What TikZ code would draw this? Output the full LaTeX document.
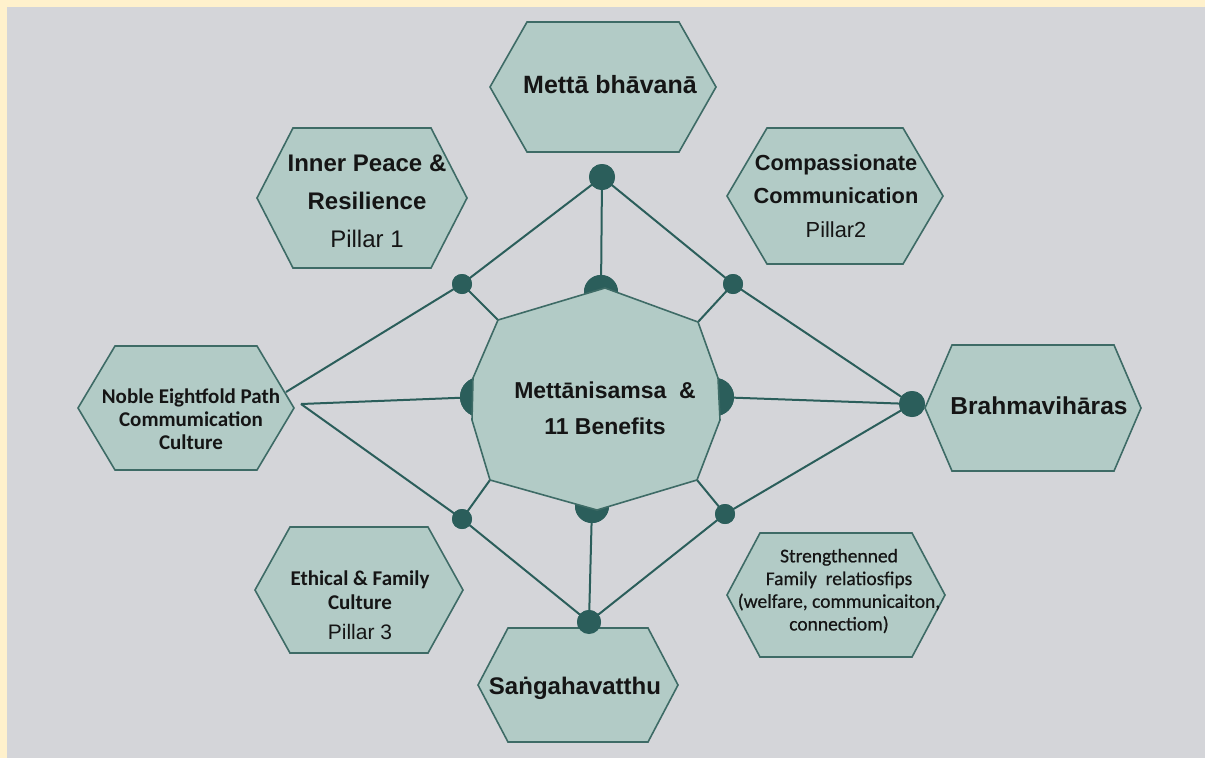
\documentclass[tikz,border=0pt]{standalone}
\usepackage{fontspec}
\setmainfont{Liberation Sans}
\newfontfamily\hum{Carlito}
\newfontfamily\humdark{Carlito}[FakeBold=0.6]
\definecolor{cream}{HTML}{FFF1CC}
\definecolor{bgc}{HTML}{D4D5D9}
\definecolor{hexfill}{HTML}{B2CBC6}
\definecolor{hexline}{HTML}{3E6B66}
\definecolor{tealdark}{HTML}{2B5E5B}
\definecolor{ink}{HTML}{151515}
\tikzset{
  hexshape/.style={fill=hexfill, draw=hexline, line width=1.6pt, line join=miter},
  conn/.style={draw=tealdark, line width=2pt},
  bigdot/.style={circle, fill=tealdark, minimum size=26pt, inner sep=0pt},
  smalldot/.style={circle, fill=tealdark, minimum size=20pt, inner sep=0pt},
  dome/.style={circle, fill=tealdark, inner sep=0pt},
  txt/.style={text=ink, align=center, inner sep=0pt},
}
\newcommand\hexat[6]{% name, cx, cy, half width, half height, inset
  \draw[hexshape] (#2-#4,#3) -- (#2-#4+#6,#3-#5) -- (#2+#4-#6,#3-#5) -- (#2+#4,#3)
     -- (#2+#4-#6,#3+#5) -- (#2-#4+#6,#3+#5) -- cycle;
  \coordinate (#1) at (#2,#3);
}
\begin{document}
\begin{tikzpicture}[x=1pt,y=-1pt]
\useasboundingbox (0,0) rectangle (1205,758);
\fill[cream] (0,0) rectangle (1205,758);
\fill[bgc] (7,7) rectangle (1205,758);

% central shape corners
\coordinate (c1) at (498,320);
\coordinate (c2) at (605,288);
\coordinate (c3) at (698,322);
\coordinate (c4) at (718,378);
\coordinate (c5) at (720,420);
\coordinate (c6) at (697,480);
\coordinate (c7) at (597,510);
\coordinate (c8) at (490,480);
\coordinate (c9) at (472,420);
\coordinate (c10) at (473,378);

% dots (placed as named nodes, filled later on top)
\node[bigdot] (topdot) at (602,177) {};
\node[smalldot] (uldot) at (462,284) {};
\node[smalldot] (urdot) at (733,284) {};
\node[smalldot] (lldot) at (462,519) {};
\node[smalldot] (lrdot) at (725,514) {};
\node[bigdot] (brdot) at (912,404) {};
\node[smalldot, minimum size=24pt] (botdot) at (589,622) {};

% domes on the central shape
\node[dome, minimum size=34pt] (dtop) at (601,292) {};
\node[dome, minimum size=40pt] (dleft) at (480,397) {};
\node[dome, minimum size=38pt] (dright) at (715,397) {};
\node[dome, minimum size=34pt] (dbot) at (592,506) {};

% connector ends on the Noble hexagon
\coordinate (nobleA) at (286,392);
\coordinate (nobleB) at (301,404);

% connectors
\draw[conn] (topdot.center) -- (uldot.center) -- (nobleA);
\draw[conn] (topdot.center) -- (urdot.center) -- (brdot.center);
\draw[conn] (topdot.center) -- (dtop.center);
\draw[conn] (uldot.center) -- (c1);
\draw[conn] (urdot.center) -- (c3);
\draw[conn] (nobleB) -- (dleft.center);
\draw[conn] (nobleB) -- (lldot.center) -- (botdot.center);
\draw[conn] (lldot.center) -- (c8);
\draw[conn] (brdot.center) -- (dright.center);
\draw[conn] (brdot.center) -- (lrdot.center) -- (botdot.center);
\draw[conn] (lrdot.center) -- (c6);
\draw[conn] (dbot.center) -- (botdot.center);

% redraw domes over connectors
\fill[tealdark] (dtop) circle (17);
\fill[tealdark] (dleft) circle (20);
\fill[tealdark] (dright) circle (19);
\fill[tealdark] (dbot) circle (17);

% central shape
\draw[hexshape] (c1) -- (c2) -- (c3) -- (c4) -- (c5) -- (c6) -- (c7) -- (c8) -- (c9) -- (c10) -- cycle;

% hexagons
\hexat{metta}{603}{87}{113}{65}{37}
\hexat{inner}{362}{198}{105}{70}{36}
\hexat{compa}{835}{196}{108}{68}{40}
\hexat{noble}{186}{408}{108}{62}{37}
\hexat{brahma}{1033}{408}{108}{63}{27}
\hexat{ethic}{359}{590}{104}{63}{35}
\hexat{streng}{836}{595}{109}{62}{33}
\hexat{sangha}{578}{685}{100}{57}{30}

% dots on top
\fill[tealdark] (topdot) circle (13);
\fill[tealdark] (uldot) circle (10);
\fill[tealdark] (urdot) circle (10);
\fill[tealdark] (lldot) circle (10);
\fill[tealdark] (lrdot) circle (10);
\fill[tealdark] (brdot) circle (13);
\fill[tealdark] (botdot) circle (12);

% texts
\node[txt, font=\bfseries\fontsize{25}{30}\selectfont] (tmetta) at (610,85) {Mettā bhāvanā};
\node[txt, font=\fontsize{24}{38}\selectfont] (tinner) at (367,201)
  {\textbf{Inner Peace \&}\\ \textbf{Resilience}\\ Pillar 1};
\node[txt, font=\fontsize{21.8}{33.5}\selectfont] (tcompa) at (836,196)
  {\textbf{Compassionate}\\ \textbf{Communication}\\ Pillar2};
\node[txt, font=\hum\bfseries\fontsize{21}{23}\selectfont] (tnoble) at (191,419)
  {Noble Eightfold Path\\ Commumication\\ Culture};
\node[txt, font=\bfseries\fontsize{23}{36}\selectfont] (tcenter) at (605,408)
  {Mettānisamsa\ \ \&\\ 11 Benefits};
\node[txt, font=\bfseries\fontsize{24.5}{30}\selectfont] (tbrahma) at (1039,406) {Brahmavihāras};
\node[txt, font=\fontsize{21}{24}\selectfont] (tethic) at (360,605)
  {{\hum\bfseries Ethical \& Family}\\ {\hum\bfseries Culture}\\[6pt] Pillar 3};
\node[txt, font=\humdark\fontsize{19.5}{22.7}\selectfont] (tstreng) at (839,591)
  {Strengthenned\\ Family\ \ relatiosfips\\ (welfare, communicaiton,\\ connectiom)};
\node[txt, font=\bfseries\fontsize{24}{30}\selectfont] (tsangha) at (575,688) {Saṅgahavatthu};
\end{tikzpicture}
\end{document}
